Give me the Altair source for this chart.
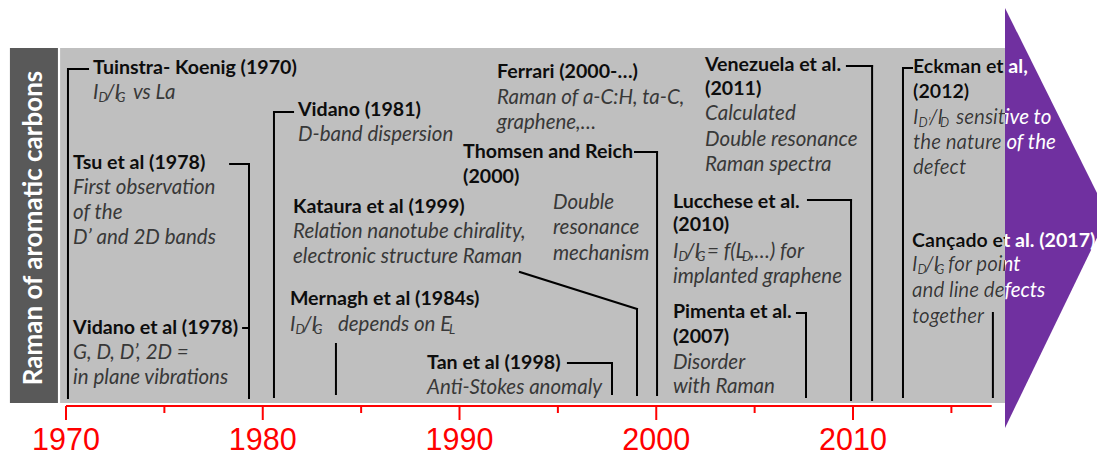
import altair as alt
import pandas as pd

# ---------------- layout of the view ----------------
W, H = 997, 447
X_DOMAIN = [1967.052, 2017.725]          # years across the view
Y_DOMAIN = [455, 8]                      # layout rows, top = 8
PXY = W / (X_DOMAIN[1] - X_DOMAIN[0])    # pixels per year

# ---------------- axis data ----------------
axis_from, axis_to = 1970, 2017.05
major_years = [1970, 1980, 1990, 2000, 2010]
minor_years = [1975, 1985, 1995, 2005, 2015]
axis_row = 406
major_tick_end = 420
minor_tick_end = 413
label_row = 450

# ---------------- panels ----------------
panel_names = ["band", "field"]
panel_x = [1967.15, 1969.70]
panel_x2 = [1969.59, 2017.725]
panel_y = [48, 48]
panel_y2 = [403, 403]
panel_colors = ["#595959", "#bfbfbf"]

title_text = ["Raman of aromatic carbons"]
title_x = [1968.37]
title_y = [228]

arrow_x = [2017.725, 2022.96]
arrow_top = [8, 215]
arrow_bottom = [428, 215]

# ---------------- events ----------------
event_names = ["tk", "tsu", "vid78", "vid81", "kat", "mer", "tan", "fer",
               "tho", "dbl", "ven", "luc", "pim", "eck", "can"]
event_x = [1971.37, 1970.36, 1970.36, 1981.79, 1981.54, 1981.38, 1988.35,
           1991.91, 1990.18, 1994.75, 2002.48, 2000.85, 2000.85, 2013.05, 2013.00]
event_lines = [
    [("b", "Tuinstra- Koenig (1970)"), ("s", "tk")],
    [("b", "Tsu et al (1978)"), ("i", "First observation"), ("i", "of the"), ("i", "D’ and 2D bands")],
    [("b", "Vidano et al (1978)"), ("i", "G, D, D’, 2D ="), ("i", "in plane vibrations")],
    [("b", "Vidano (1981)"), ("i", "D-band dispersion")],
    [("b", "Kataura et al (1999)"), ("i", "Relation nanotube chirality,"), ("i", "electronic structure Raman")],
    [("b", "Mernagh et al (1984s)"), ("s", "mer")],
    [("b", "Tan et al (1998)"), ("i", "Anti-Stokes anomaly")],
    [("b", "Ferrari (2000-…)"), ("i", "Raman of a-C:H, ta-C,"), ("i", "graphene,…")],
    [("b", "Thomsen and Reich"), ("b", "(2000)")],
    [("i", "Double"), ("i", "resonance"), ("i", "mechanism")],
    [("b", "Venezuela et al."), ("b", "(2011)"), ("i", "Calculated"), ("i", "Double resonance"), ("i", "Raman spectra")],
    [("b", "Lucchese et al."), ("b", "(2010)"), ("s", "luc"), ("i", "implanted graphene")],
    [("b", "Pimenta et al."), ("b", "(2007)"), ("i", "Disorder"), ("i", "with Raman")],
    [("b", "Eckman et al,"), ("b", "(2012)"), ("s", "eck"), ("i", "the nature of the"), ("i", "defect")],
    [("b", "Cançado et al. (2017)"), ("s", "can"), ("i", "and line defects"), ("i", "together")],
]
event_rows = [
    [68, 93],
    [163, 188, 213, 238],
    [328, 353, 378],
    [110, 135],
    [207, 232, 257],
    [299, 325],
    [363, 388],
    [72, 98, 123],
    [152, 177],
    [203, 228, 254],
    [65, 89, 114, 140, 165],
    [202, 225, 252, 277],
    [312, 337, 363, 387],
    [67, 92, 118, 143, 168],
    [241, 265, 291, 317],
]

# lines with subscripts: odd pieces are subscripts
sub_segments = {
    "tk": ["I", "D", "/I", "G", "vs La"],
    "mer": ["I", "D", "/I", "G", "depends on E", "L"],
    "luc": ["I", "D", "/I", "G", "= f(L", "D", ",…) for"],
    "eck": ["I", "D’", "/I", "D", "sensitive to"],
    "can": ["I", "D", "/I", "G", "for point"],
}
# horizontal offset of each piece (pixels from the line start)
sub_offsets = {
    "tk": [0, 5.5, 13, 23.5, 40],
    "mer": [0, 5.5, 13, 23.5, 48, 159],
    "luc": [0, 5.5, 13, 23.5, 34, 69, 77],
    "eck": [0, 5.5, 16, 27, 43],
    "can": [0, 5.5, 13, 23.5, 36],
}
SUB_DROP = 5

# connector lines (year, row) -> (year, row)
conn_x = [1970.10, 1970.10, 1978.34, 1979.30, 1979.00, 1980.57, 1980.57, 1983.72,
          1995.51, 1997.75, 1993.07, 1999.02, 1998.92, 2000.04, 2007.15, 2007.61,
          2007.71, 2009.90, 2009.69, 2010.97, 2012.54, 2012.54, 2017.11]
conn_y = [69, 69, 164, 164, 328, 112, 112, 344,
          363, 363, 272, 309, 152, 152, 313, 313,
          200, 200, 66, 66, 68, 68, 313]
conn_x2 = [1971.12, 1970.10, 1979.30, 1979.30, 1979.30, 1981.54, 1980.57, 1983.72,
           1997.75, 1997.75, 1999.02, 1999.02, 2000.04, 2000.04, 2007.61, 2007.61,
           2009.90, 2009.90, 2010.97, 2010.97, 2013.00, 2012.54, 2017.11]
conn_y2 = [69, 398, 164, 398, 328, 112, 397, 394,
           363, 394, 309, 395, 152, 395, 313, 397,
           200, 400, 66, 400, 68, 397, 397]

# ---------------- tables ----------------
rows = []
for name, x0, lines, ys in zip(event_names, event_x, event_lines, event_rows):
    for (kind, content), yy in zip(lines, ys):
        if kind == "s":
            for i, (seg, off) in enumerate(zip(sub_segments[content], sub_offsets[content])):
                is_sub = i % 2 == 1
                rows.append(dict(group=name, x=x0 + off / PXY,
                                 y=yy + (SUB_DROP if is_sub else 0),
                                 text=seg, kind="sub" if is_sub else "ital"))
        else:
            rows.append(dict(group=name, x=x0, y=yy, text=content,
                             kind="bold" if kind == "b" else "ital"))
texts = pd.DataFrame(rows)

panels = pd.DataFrame(dict(name=panel_names, x=panel_x, x2=panel_x2,
                           y=panel_y, y2=panel_y2, color=panel_colors))
arrow = pd.DataFrame(dict(x=arrow_x, y=arrow_top, y2=arrow_bottom))
conns = pd.DataFrame(dict(x=conn_x, y=conn_y, x2=conn_x2, y2=conn_y2))
title = pd.DataFrame(dict(x=title_x, y=title_y, text=title_text))

axis_rows = [dict(x=axis_from, y=axis_row, x2=axis_to, y2=axis_row)]
axis_rows += [dict(x=v, y=axis_row, x2=v, y2=major_tick_end) for v in major_years]
axis_rows += [dict(x=v, y=axis_row, x2=v, y2=minor_tick_end) for v in minor_years]
axis_df = pd.DataFrame(axis_rows)
labels = pd.DataFrame(dict(x=major_years, y=[label_row] * len(major_years),
                           text=[str(v) for v in major_years]))

# ---------------- encodings ----------------
xs = alt.Scale(domain=X_DOMAIN, nice=False, zero=False)
ys = alt.Scale(domain=Y_DOMAIN, nice=False, zero=False)
X = alt.X("x:Q", scale=xs, axis=None)
Y = alt.Y("y:Q", scale=ys, axis=None)
X2 = alt.X2("x2:Q")
Y2 = alt.Y2("y2:Q")

FONT = "Lato"
BOLD_SIZE, ITAL_SIZE, SUB_SIZE = 19.6, 20.5, 13
BOLD_COLOR, ITAL_COLOR = "#0d0d0d", "#383838"

panel_layer = alt.Chart(panels).mark_rect().encode(
    x=X, x2=X2, y=Y, y2=Y2, color=alt.Color("color:N", scale=None))

arrow_layer = alt.Chart(arrow).mark_area(color="#7030a0", opacity=1).encode(
    x=X, y=Y, y2=Y2)

title_layer = alt.Chart(title).mark_text(
    angle=270, font=FONT, fontSize=26, fontWeight="bold", color="white",
    align="center", baseline="middle").encode(x=X, y=Y, text="text:N")

conn_layer = alt.Chart(conns).mark_rule(
    color="#000000", strokeWidth=2, strokeCap="square").encode(x=X, y=Y, x2=X2, y2=Y2)

axis_layer = alt.Chart(axis_df).mark_rule(
    color="#ff0000", strokeWidth=2).encode(x=X, y=Y, x2=X2, y2=Y2)

label_layer = alt.Chart(labels).mark_text(
    font="Liberation Sans", fontSize=30.5, color="#ff0000",
    align="center", baseline="alphabetic").encode(x=X, y=Y, text="text:N")

styles = {
    "bold": dict(fontSize=BOLD_SIZE, fontWeight="bold", fontStyle="normal", color=BOLD_COLOR),
    "ital": dict(fontSize=ITAL_SIZE, fontWeight="normal", fontStyle="italic", color=ITAL_COLOR),
    "sub": dict(fontSize=SUB_SIZE, fontWeight="normal", fontStyle="italic", color=ITAL_COLOR),
}

white_layers = []
black_layers = []
for kind, st in styles.items():
    base = alt.Chart(texts).transform_filter(alt.datum.kind == kind)
    white_st = dict(st)
    white_st["color"] = "white"
    white_layers.append(
        base.transform_filter(alt.FieldOneOfPredicate(field="group", oneOf=["eck", "can"]))
        .mark_text(font=FONT, align="left", baseline="middle", **white_st)
        .encode(x=X, y=Y, text="text:N"))
    black_layers.append(
        base.mark_text(font=FONT, align="left", baseline="middle", clip=True, **st)
        .encode(x=X, y=Y, text="text:N"))

chart = alt.layer(
    panel_layer, arrow_layer, *white_layers, conn_layer, *black_layers,
    title_layer, axis_layer, label_layer
).properties(
    width=W, height=H,
    padding={"left": 0, "top": 0, "right": 92, "bottom": 0},
    autosize=alt.AutoSizeParams(type="none"),
    background="white",
).configure_view(strokeWidth=0)

chart.save("out.html", embed_options={"renderer": "svg", "actions": False})
